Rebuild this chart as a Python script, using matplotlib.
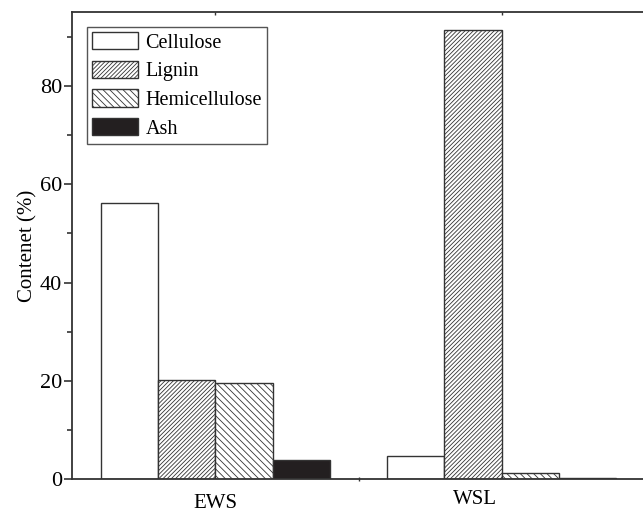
import numpy as np
import matplotlib
matplotlib.use('Agg')
import matplotlib.pyplot as plt
import matplotlib.transforms as mtransforms
from matplotlib.ticker import MultipleLocator, FixedLocator, NullLocator

plt.rcParams['font.family'] = 'Liberation Serif'
plt.rcParams['hatch.linewidth'] = 0.6
plt.rcParams['hatch.color'] = '#222222'

samples = ['EWS', 'WSL']
components = ['Cellulose', 'Lignin', 'Hemicellulose', 'Ash']
cellulose = [56.1, 4.7]
lignin = [20.1, 91.4]
hemicellulose = [19.5, 1.3]
ash = [4.0, 0.3]

series = [cellulose, lignin, hemicellulose, ash]
faces = ['white', 'white', 'white', '#231f20']
hatches = ['', '////////', '\\\\\\\\\\', '']

fig = plt.figure(figsize=(6.43, 5.13), dpi=100)
ax = fig.add_axes([72/643, 33.7/513, 573/643, 467.3/513])

x = np.arange(len(samples))
width = 0.2
for i, (vals, name) in enumerate(zip(series, components)):
    ax.bar(x + (i - 1.5)*width, vals, width, color=faces[i], hatch=hatches[i],
           edgecolor='#333333', linewidth=1.0, label=name)

ax.set_xlim(-0.5, 1.5)
ax.set_ylim(0, 95)
ax.set_ylabel('Contenet (%)', fontsize=15, labelpad=2)

ax.yaxis.set_major_locator(MultipleLocator(20))
ax.yaxis.set_minor_locator(MultipleLocator(10))
ax.tick_params(axis='y', which='major', length=6, width=1.2, labelsize=16, pad=1, color='#333333')
ax.tick_params(axis='y', which='minor', length=3.5, width=1.2, color='#333333')

# bottom: one small tick between the groups, labels placed by hand
ax.xaxis.set_major_locator(FixedLocator([0.5]))
ax.xaxis.set_minor_locator(NullLocator())
ax.set_xticklabels([])
ax.tick_params(axis='x', which='major', length=3, width=1, direction='inout', color='#333333')

top = ax.secondary_xaxis('top')
top.set_xticks([0, 1])
top.set_xticklabels([])
top.tick_params(length=2, width=1, direction='in', color='#333333')
top.spines['top'].set_visible(False)

trans = mtransforms.blended_transform_factory(ax.transData, ax.transAxes)
ax.text(0.0, -0.062, samples[0], transform=trans, ha='center', va='baseline', fontsize=15)
ax.text(0.906, -0.052, samples[1], transform=trans, ha='center', va='baseline', fontsize=15)

for side in ['left', 'bottom', 'top', 'right']:
    ax.spines[side].set_color('#333333')
    ax.spines[side].set_linewidth(1.3)

leg = ax.legend(loc='upper left', bbox_to_anchor=(87/643, 1 - 27/513),
                bbox_transform=fig.transFigure, borderaxespad=0,
                fontsize=14.5, fancybox=False, framealpha=1, edgecolor='#555555',
                handlelength=2.3, handleheight=0.95, handletextpad=0.35,
                labelspacing=0.4, borderpad=0.25)
leg.get_frame().set_linewidth(1.0)

fig.savefig('out.png', dpi=100)
